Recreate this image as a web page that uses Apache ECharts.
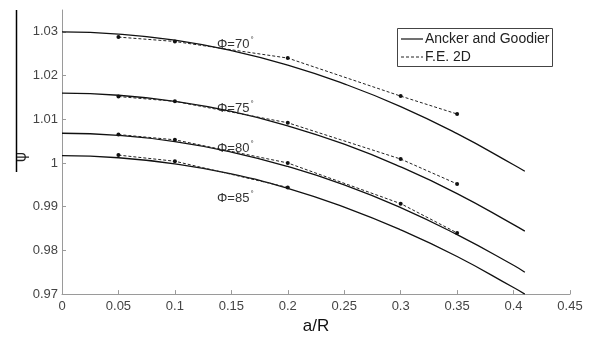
<!DOCTYPE html>
<html><head><meta charset="utf-8">
<script src="https://cdn.jsdelivr.net/npm/echarts@6/dist/echarts.min.js"></script>
<style>html,body{margin:0;padding:0;background:#fff}#c{width:590px;height:340px}</style>
</head><body><div id="c"></div>
<script>
// Analytical (Ancker and Goodier) curves
const xAnalytic = [0, 0.05, 0.1, 0.15, 0.2, 0.25, 0.3, 0.35, 0.4, 0.41];
const ag70 = [1.0300, 1.0295, 1.0281, 1.0257, 1.0224, 1.0181, 1.0129, 1.0067, 0.9996, 0.9981];
const ag75 = [1.0160, 1.0155, 1.0141, 1.0118, 1.0085, 1.0043, 0.9991, 0.9930, 0.9859, 0.9844];
const ag80 = [1.0068, 1.0063, 1.0049, 1.0025, 0.9992, 0.9950, 0.9898, 0.9836, 0.9766, 0.9750];
const ag85 = [1.0017, 1.0012, 0.9998, 0.9975, 0.9942, 0.9899, 0.9847, 0.9786, 0.9715, 0.9700];
// F.E. 2D results
const xFE = [0.05, 0.1, 0.2, 0.3, 0.35];
const fe70 = [1.0288, 1.0278, 1.0240, 1.0153, 1.0112];
const fe75 = [1.0152, 1.0141, 1.0092, 1.0009, 0.9952];
const fe80 = [1.0065, 1.0053, 1.0000, 0.9907, 0.9840];
const fe85 = [1.0018, 1.0004, 0.9944];
const xTicks = [0, 0.05, 0.1, 0.15, 0.2, 0.25, 0.3, 0.35, 0.4, 0.45];
const yTicks = [0.97, 0.98, 0.99, 1, 1.01, 1.02, 1.03];
const curveLabels = ['Φ=70', 'Φ=75', 'Φ=80', 'Φ=85'];
const legendNames = ['Ancker and Goodier', 'F.E. 2D'];

const pair = (xs, ys) => ys.map((v, i) => [xs[i], v]);
const solid = (name, ys) => ({
  name, type: 'line', data: pair(xAnalytic, ys), smooth: true, showSymbol: false,
  lineStyle: { color: '#111', width: 1.3 }, silent: true, z: 2
});
const dashed = (name, ys) => ({
  name, type: 'line', data: pair(xFE, ys), symbol: 'circle', symbolSize: 4,
  itemStyle: { color: '#111' },
  lineStyle: { color: '#222', width: 1, type: [3, 2] }, silent: true, z: 3
});

const chart = echarts.init(document.getElementById('c'));
const axisGrey = '#9a9a9a';
const lblColor = '#444';
const font = 'Liberation Sans, Arial, sans-serif';

const labelGraphics = curveLabels.map((t, i) => ({
  type: 'text', left: 217, top: [36, 100, 140, 190][i],
  style: {
    text: '{m|' + t + '}{s|°}',
    rich: { m: { fontSize: 13, fill: '#333', fontFamily: font }, s: { fontSize: 8, fill: '#333', verticalAlign: 'top', padding: [0, 0, 8, 1] } }
  }
}));

chart.setOption({
  animation: false,
  grid: { left: 62, right: 20, top: 10, bottom: 40 },
  xAxis: {
    type: 'value', min: 0, max: 0.45, interval: 0.05,
    name: 'a/R', nameLocation: 'middle', nameGap: 20,
    nameTextStyle: { fontSize: 17, color: '#111', fontFamily: font },
    axisLine: { lineStyle: { color: axisGrey } },
    axisTick: { inside: true, length: 4, lineStyle: { color: axisGrey } },
    axisLabel: { color: lblColor, fontSize: 13, fontFamily: font, margin: 6,
      formatter: v => String(+v.toFixed(2)) },
    splitLine: { show: false }
  },
  yAxis: {
    type: 'value', min: 0.97, max: 1.035,
    axisLine: { show: true, lineStyle: { color: axisGrey } },
    axisTick: { show: true, inside: true, length: 4, lineStyle: { color: axisGrey }, customValues: yTicks },
    axisLabel: { color: lblColor, fontSize: 13, fontFamily: font, margin: 4, customValues: yTicks,
      formatter: v => String(+v.toFixed(2)) },
    splitLine: { show: false }
  },
  series: [
    solid(legendNames[0], ag70), solid(legendNames[0], ag75), solid(legendNames[0], ag80), solid(legendNames[0], ag85),
    dashed(legendNames[1], fe70), dashed(legendNames[1], fe75), dashed(legendNames[1], fe80), dashed(legendNames[1], fe85)
  ],
  graphic: [
    ...labelGraphics,
    { type: 'line', shape: { x1: 16.5, y1: 10, x2: 16.5, y2: 172 }, style: { stroke: '#000', lineWidth: 1.5 } },
    { type: 'text', x: 22, y: 157, rotation: Math.PI / 2, style: { text: 'ψ', fontSize: 15, fill: '#222', fontFamily: 'DejaVu Sans', align: 'center', verticalMiddle: 'middle', verticalAlign: 'middle' } },
    { type: 'rect', shape: { x: 397.5, y: 28.5, width: 155, height: 38 }, style: { fill: '#fff', stroke: '#444', lineWidth: 1 } },
    { type: 'line', shape: { x1: 401, y1: 39, x2: 423, y2: 39 }, style: { stroke: '#111', lineWidth: 1.2 } },
    { type: 'line', shape: { x1: 401, y1: 57, x2: 423, y2: 57 }, style: { stroke: '#222', lineWidth: 1, lineDash: [3, 2] } },
    { type: 'text', x: 425, y: 39, style: { text: legendNames[0], fontSize: 14, fill: '#222', fontFamily: font, verticalAlign: 'middle' } },
    { type: 'text', x: 425, y: 57, style: { text: legendNames[1], fontSize: 14, fill: '#222', fontFamily: font, verticalAlign: 'middle' } }
  ]
});
</script></body></html>
